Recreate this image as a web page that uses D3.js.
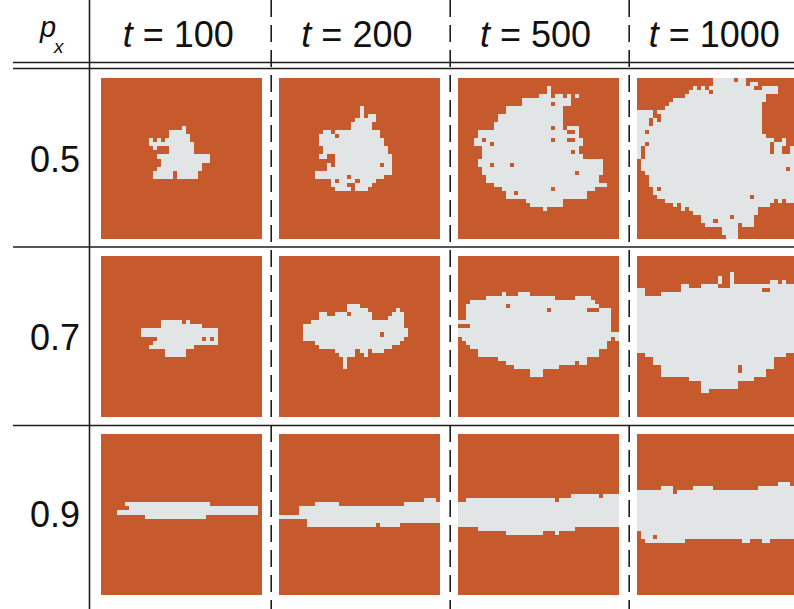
<!DOCTYPE html>
<html><head><meta charset="utf-8">
<script src="https://cdn.jsdelivr.net/npm/d3@7"></script>
<style>html,body{margin:0;padding:0;background:#fff;} svg{display:block} text{white-space:pre}</style>
</head><body>
<script>
// ---------- data ----------
const timeLabels = ["100", "200", "500", "1000"];
const pxLabels = ["0.5", "0.7", "0.9"];
const gridSize = 40; // lattice cells per panel side

// occupied (grey) cells as row spans: [row, firstCol, lastCol]
const c05_t100 = [[12,20,20],[13,17,20],[14,17,21],[15,12,12],[15,14,14],[15,16,21],[16,12,22],[17,13,13],[17,17,22],[18,17,22],[19,14,26],[20,15,26],[21,15,24],[22,14,24],[23,13,17],[23,19,23],[24,13,17],[24,19,23]];
const c05_t200 = [[7,20,20],[8,20,20],[9,20,20],[9,22,23],[10,19,23],[11,18,22],[12,18,22],[13,11,12],[13,14,24],[14,10,13],[14,15,24],[15,10,25],[16,10,25],[17,11,26],[18,11,26],[19,10,11],[19,14,27],[20,14,27],[21,12,12],[21,14,24],[21,26,27],[22,12,27],[23,9,27],[24,9,16],[24,18,25],[25,13,13],[25,15,18],[25,20,23],[26,13,16],[26,19,22],[27,14,17],[27,19,21]];
const c05_t500 = [[2,22,22],[3,22,22],[4,20,22],[4,24,25],[4,27,27],[4,29,29],[5,16,27],[6,16,22],[6,24,27],[7,12,25],[8,12,25],[9,10,25],[10,10,25],[11,9,25],[12,9,22],[12,24,25],[12,27,29],[13,5,26],[13,29,29],[14,5,29],[15,4,5],[15,7,22],[15,24,26],[15,29,30],[16,4,7],[16,9,30],[17,6,29],[18,6,27],[18,29,29],[19,6,30],[20,5,35],[21,5,7],[21,9,12],[21,14,35],[22,6,35],[23,6,28],[23,30,35],[24,7,34],[25,7,34],[26,9,36],[27,11,22],[27,24,33],[28,12,13],[28,15,31],[29,12,31],[30,17,25],[31,18,25],[32,21,21]];
const c05_t1000 = [[0,19,23],[0,25,26],[1,19,26],[1,28,29],[2,14,14],[2,16,16],[2,18,28],[2,31,34],[3,13,17],[3,19,34],[4,12,31],[5,9,31],[6,8,30],[7,7,30],[8,0,3],[8,5,30],[9,0,3],[9,6,30],[10,0,2],[10,4,4],[10,6,30],[11,0,2],[11,4,30],[12,0,30],[13,0,1],[13,3,30],[14,0,31],[15,0,33],[15,36,36],[16,0,1],[16,3,32],[16,34,36],[17,0,0],[17,2,32],[17,34,35],[17,38,39],[18,0,0],[18,2,32],[18,34,35],[18,38,39],[19,0,0],[19,2,39],[20,1,39],[21,1,39],[22,1,36],[22,38,39],[23,2,39],[24,3,39],[25,3,39],[26,3,39],[27,4,4],[27,6,39],[28,4,39],[29,5,27],[29,29,39],[30,7,33],[30,35,35],[30,37,39],[31,9,9],[31,11,32],[32,11,11],[32,13,29],[33,14,29],[34,16,22],[34,24,28],[35,16,18],[35,20,28],[36,17,24],[36,26,28],[37,21,24],[38,21,24],[39,22,24]];

const c07_t100 = [[16,15,19],[16,21,21],[17,15,24],[18,10,28],[19,10,28],[20,14,24],[20,26,26],[20,28,28],[21,13,28],[22,12,22],[23,16,20],[24,16,20]];
const c07_t200 = [[12,17,19],[13,17,21],[13,29,29],[14,10,11],[14,14,16],[14,18,22],[14,28,30],[15,10,22],[15,27,30],[16,8,30],[17,6,30],[18,6,31],[19,6,24],[19,26,31],[20,6,30],[21,9,29],[22,10,27],[23,14,18],[23,20,21],[23,23,25],[24,15,18],[24,21,21],[25,16,16],[26,16,16],[27,16,16]];
const c07_t500 = [[9,11,11],[9,15,17],[10,7,23],[10,29,32],[11,3,33],[12,2,11],[12,13,34],[13,2,21],[13,23,31],[13,35,37],[14,2,37],[15,2,37],[16,0,37],[17,3,37],[18,0,37],[19,0,39],[20,1,37],[20,39,39],[21,2,36],[22,3,36],[23,5,34],[24,5,34],[25,10,31],[26,12,28],[26,30,31],[27,14,24],[28,18,20],[29,18,20]];
const c07_t1000 = [[4,23,23],[5,20,20],[5,23,23],[6,20,20],[6,23,23],[6,33,34],[6,36,36],[7,11,12],[7,16,19],[7,23,39],[8,0,1],[8,11,30],[8,33,39],[9,0,1],[9,6,39],[10,0,39],[11,0,39],[12,0,39],[13,0,39],[14,0,39],[15,0,39],[16,0,39],[17,0,39],[18,0,39],[19,0,39],[20,0,39],[21,0,39],[22,0,39],[23,0,39],[24,2,36],[25,4,33],[26,4,33],[27,6,24],[27,26,33],[28,6,24],[28,26,31],[29,6,31],[30,13,28],[31,16,24],[32,16,24],[33,16,17]];

const c09_t100 = [[17,6,26],[18,7,38],[19,4,38],[20,11,25]];
const c09_t200 = [[16,36,38],[17,9,14],[17,31,39],[18,5,39],[19,5,39],[20,0,39],[21,7,39],[22,7,23],[22,25,29]];
const c09_t500 = [[15,28,34],[15,36,39],[16,2,23],[16,25,39],[17,0,39],[18,0,39],[19,0,39],[20,0,39],[21,0,39],[22,0,39],[23,5,28],[24,12,20],[24,24,24]];
const c09_t1000 = [[12,35,37],[13,6,8],[13,14,18],[13,30,39],[14,0,8],[14,10,39],[15,0,39],[16,0,39],[17,0,39],[18,0,39],[19,0,39],[20,0,39],[21,0,39],[22,0,39],[23,0,39],[24,1,39],[25,1,3],[25,5,39],[26,2,11],[26,26,27],[26,31,32]];

const clusters = [
  [c05_t100, c05_t200, c05_t500, c05_t1000],
  [c07_t100, c07_t200, c07_t500, c07_t1000],
  [c09_t100, c09_t200, c09_t500, c09_t1000]
];

// ---------- drawing ----------
const W = 794, H = 609;
const ORANGE = "#C75A2D", GREY = "#E2E5E6", INK = "#1e1e1e";
const FONT = "'Liberation Sans', Arial, Helvetica, sans-serif";

const svg = d3.select("body").append("svg").attr("width", W).attr("height", H);

const panelSize = 161;
const colX = d3.scaleLinear().domain([0, 1]).range([100.7, 279.4]);
const rowY = d3.scaleLinear().domain([0, 1]).range([78.3, 256.0]);
const cell = d3.scaleLinear().domain([0, gridSize]).range([0, panelSize]);
const px = v => Math.round(v);

// panels
clusters.forEach((rowArr, i) => {
  rowArr.forEach((spans, j) => {
    const g = svg.append("g").attr("transform", `translate(${px(colX(j))},${px(rowY(i))})`)
      .attr("shape-rendering", "crispEdges");
    g.append("rect").attr("width", panelSize).attr("height", panelSize).attr("fill", ORANGE);
    g.selectAll("rect.c").data(spans).join("rect").attr("class", "c")
      .attr("x", d => px(cell(d[1])))
      .attr("y", d => px(cell(d[0])))
      .attr("width", d => px(cell(d[2] + 1)) - px(cell(d[1])))
      .attr("height", d => px(cell(d[0] + 1)) - px(cell(d[0])))
      .attr("fill", GREY);
  });
});

// table lines
const lines = svg.append("g").attr("stroke", INK).attr("fill", "none");
lines.append("line").attr("x1", 89.5).attr("x2", 89.5).attr("y1", 0).attr("y2", H).attr("stroke-width", 1.6);
[62.5, 68.5].forEach(y => lines.append("line").attr("x1", 13).attr("x2", W).attr("y1", y).attr("y2", y).attr("stroke-width", 1.6));
[247, 425.5].forEach(y => lines.append("line").attr("x1", 13).attr("x2", W).attr("y1", y).attr("y2", y).attr("stroke-width", 1.6));
[271.2, 450.2, 629.2].forEach(x => lines.append("line").attr("x1", x).attr("x2", x).attr("y1", 0).attr("y2", H)
  .attr("stroke-width", 1.6).attr("stroke-dasharray", "17,8"));

// column headers
const headCenter = j => colX(j) + panelSize / 2 - 3;
timeLabels.forEach((lab, j) => {
  const t = svg.append("text").attr("x", headCenter(j)).attr("y", 47)
    .attr("text-anchor", "middle").attr("font-family", FONT).attr("font-size", 36).attr("fill", "#111");
  t.append("tspan").attr("font-style", "italic").text("t");
  t.append("tspan").text(" = " + lab);
});

// p_x header
svg.append("text").attr("x", 40).attr("y", 37).attr("font-family", FONT).attr("font-size", 29)
  .attr("font-style", "italic").attr("fill", "#111").text("p");
svg.append("text").attr("x", 54).attr("y", 53).attr("font-family", FONT).attr("font-size", 19)
  .attr("font-style", "italic").attr("fill", "#111").text("x");

// row labels
pxLabels.forEach((lab, i) => {
  svg.append("text").attr("x", 55).attr("y", rowY(i) + panelSize / 2 + 13)
    .attr("text-anchor", "middle").attr("font-family", FONT).attr("font-size", 36).attr("fill", "#111").text(lab);
});
</script>
</body></html>
